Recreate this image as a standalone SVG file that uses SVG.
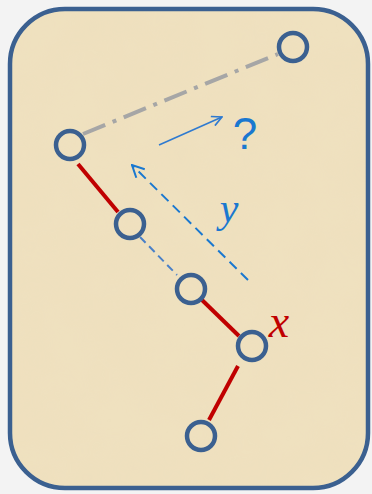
<svg xmlns="http://www.w3.org/2000/svg" width="372" height="494" viewBox="0 0 372 494">
<defs>
<style>
.node{fill:none;stroke:#3b6090;stroke-width:4.5}
.red{stroke:#c00000;stroke-width:4;fill:none}
</style>
<marker id="ah" viewBox="0 0 12 12" refX="11" refY="6" markerWidth="12" markerHeight="12" markerUnits="userSpaceOnUse" orient="auto">
<path d="M1,1 L11,6 L1,11" fill="none" stroke="#2f7ad0" stroke-width="1.6"/>
</marker>
<marker id="ah2" viewBox="0 0 14 14" refX="13" refY="7" markerWidth="14" markerHeight="14" markerUnits="userSpaceOnUse" orient="auto">
<path d="M1,1 L13,7 L1,13" fill="none" stroke="#1a78d0" stroke-width="2"/>
</marker>
<filter id="paper" x="0" y="0" width="100%" height="100%">
<feTurbulence type="fractalNoise" baseFrequency="0.02" numOctaves="3" seed="4" result="n"/>
<feColorMatrix in="n" type="matrix" values="0 0 0 0 0.85  0 0 0 0 0.72  0 0 0 0 0.5  0 0 0 0.5 -0.1" result="c"/>
<feComposite in="c" in2="SourceGraphic" operator="in"/>
</filter>
</defs>
<rect width="372" height="494" fill="#f3f3f3"/>
<rect x="10" y="9" width="358" height="479" rx="55" fill="#efe1bf"/>
<rect x="10" y="9" width="358" height="479" rx="55" fill="#efe1bf" filter="url(#paper)"/>
<rect x="10" y="9" width="358" height="479" rx="55" fill="none" stroke="#3b6090" stroke-width="4.5"/>
<g id="connectors">
<line x1="83" y1="134" x2="278" y2="54" stroke="#a6a6a6" stroke-width="4" stroke-dasharray="24,8,4,8"/>
<line class="red" x1="78" y1="164" x2="118" y2="212"/>
<line x1="140" y1="237" x2="177" y2="275" stroke="#4a80c8" stroke-width="2" stroke-dasharray="8,5"/>
<line class="red" x1="202" y1="300" x2="239" y2="336"/>
<line class="red" x1="238" y1="366" x2="209" y2="420"/>
<line x1="159" y1="145" x2="222" y2="117" stroke="#2f7ad0" stroke-width="1.6" marker-end="url(#ah)"/>
<line x1="248" y1="280" x2="132" y2="165" stroke="#1a78d0" stroke-width="2" stroke-dasharray="10,6" marker-end="url(#ah2)"/>
</g>
<g id="n1"><circle class="node" cx="293" cy="47" r="14"/></g>
<g id="n2"><circle class="node" cx="70" cy="145" r="14"/></g>
<g id="n3"><circle class="node" cx="130" cy="224" r="14"/></g>
<g id="n4"><circle class="node" cx="191" cy="289" r="14"/></g>
<g id="n5"><circle class="node" cx="252" cy="346" r="14"/></g>
<g id="n6"><circle class="node" cx="201" cy="436" r="14"/></g>
<text x="245" y="149" font-family="Liberation Sans, Arial, sans-serif" font-size="44" fill="#1a78d0" text-anchor="middle">?</text>
<text x="229" y="222" font-family="Liberation Serif, Times New Roman, serif" font-style="italic" font-size="42" fill="#1a78d0" text-anchor="middle">y</text>
<text x="279" y="337" font-family="Liberation Serif, Times New Roman, serif" font-style="italic" font-size="46" fill="#c00000" text-anchor="middle">x</text>
</svg>
